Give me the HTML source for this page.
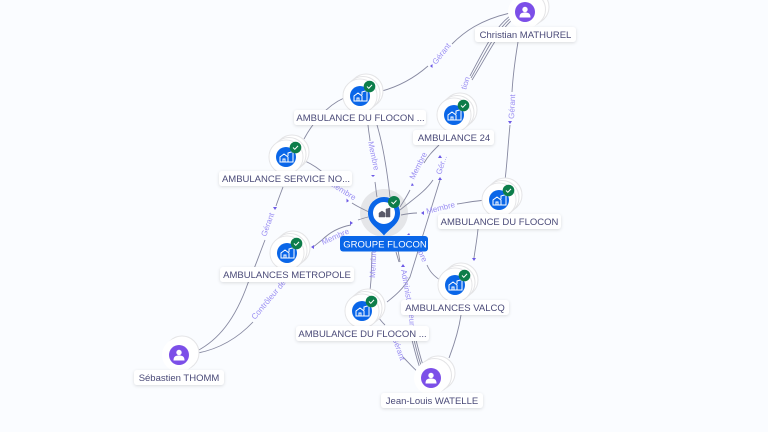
<!DOCTYPE html>
<html><head><meta charset="utf-8"><style>
html,body{margin:0;padding:0;background:#fafcff;width:768px;height:432px;overflow:hidden}
svg{display:block;font-family:"Liberation Sans",sans-serif}
.e{fill:none;stroke:#8688a0;stroke-width:.9}
.el{font-size:8px;fill:#9a8ef2}
.a{fill:#6d5ae6}
.lb{fill:#fff;filter:url(#s)}
.t{font-size:9.5px;fill:#4a4a78;text-anchor:middle}
.c{fill:#fff;stroke:#e4e4e6;stroke-width:1}
</style></head><body>
<svg width="768" height="432" viewBox="0 0 768 432" xmlns="http://www.w3.org/2000/svg">
<defs>
<filter id="s" x="-10%" y="-30%" width="120%" height="170%"><feDropShadow dx="0" dy="1" stdDeviation="1.5" flood-color="#000" flood-opacity=".13"/></filter>
<g id="co">
<circle class="c" cx="6" cy="-5" r="17"/><circle class="c" cx="3" cy="-2.500" r="17"/><circle class="c" cx="0" cy="0" r="17"/><circle r="16.500" fill="#fff"/>
<circle r="10" fill="#0a66e8"/>
<path d="M-6 5v-5l4-3 4 3v5zM-3 5v-3h2v3M2 -1v-3l5-1.500v10.500h-5" fill="none" stroke="#fff" stroke-width="1"/>
<circle cx="9.500" cy="-9.500" r="5.800" fill="#0d7d4a"/>
<path d="M7 -9.500l1.800 1.800 3.200-3.400" fill="none" stroke="#fff" stroke-width="1"/>
</g>
<g id="pe">
<circle class="c" cx="7" cy="-5" r="17"/><circle class="c" cx="3.500" cy="-2.500" r="17"/><circle r="17" fill="#fff"/>
<circle r="10" fill="#7c4fe8"/>
<circle cy="-2.500" r="2.700" fill="#fff"/><path d="M-5.500 5.500c0-4 2-5 5.500-5s5.500 1 5.500 5z" fill="#fff"/>
</g>
<g id="pe2">
<circle class="c" cx="3" cy="-2" r="17"/><circle r="17" fill="#fff"/>
<circle r="10" fill="#7c4fe8"/>
<circle cy="-2.500" r="2.700" fill="#fff"/><path d="M-5.500 5.500c0-4 2-5 5.500-5s5.500 1 5.500 5z" fill="#fff"/>
</g>
</defs>
<rect width="768" height="432" fill="#fafcff"/>

<!-- edges -->
<path class="e" d="M510 13C480 20 464 32 452 44M428 66C412 80 395 88 378 92"/>
<path class="e" d="M344 98C326 106 312 124 304 139"/>
<path class="e" d="M510 16C494 28 484 50 470 76"/>
<path class="e" d="M512 17C496 30 486 52 471 78"/>
<path class="e" d="M514 18C498 32 488 54 472 80"/>
<path class="e" d="M518 42C515 60 513 75 512 92M510 125C508 145 507 165 505 180"/>
<path class="e" d="M368 125C369 135 370 138 370 141M375 182C376 188 376 192 377 197"/>
<path class="e" d="M377 125C383 145 387 170 390 197"/>
<path class="e" d="M439 145C432 152 428 156 424 163M410 190C406 198 403 202 400 207"/>
<path class="e" d="M433 180C425 192 412 200 400 210"/>
<path class="e" d="M440 180C432 205 420 245 410 277C403 290 392 298 387 302"/>
<path class="e" d="M305 161C316 166 322 172 330 178M352 203C358 207 363 209 369 212"/>
<path class="e" d="M417 213C412 213 406 214 401 215M457 204C470 202 480 200 489 200"/>
<path class="e" d="M478 229C477 240 475 250 474 258"/>
<path class="e" d="M368 217C364 218 361 219 358 220"/>
<path class="e" d="M322 240C318 243 316 245 313 247"/>
<path class="e" d="M351 225C340 227 330 232 322 240"/>
<path class="e" d="M372 252L371 280M371 280L370 291"/>
<path class="e" d="M427 265C430 272 434 276 440 280"/>
<path class="e" d="M398 250L400 262"/>
<path class="e" d="M396 252L399 262"/>
<path class="e" d="M412 340C415 352 417 360 420 368"/>
<path class="e" d="M414 340C417 352 419 360 422 368"/>
<path class="e" d="M416 340C419 352 421 360 424 368"/>
<path class="e" d="M379 318C381 321 383 323 385 325M403 357C408 362 413 368 418 372"/>
<path class="e" d="M461 315C458 335 452 350 449 358"/>
<path class="e" d="M283 187C280 195 278 200 276 206M265 240C258 258 254 270 248 283C235 320 218 340 197 351"/>
<path class="e" d="M253 322C236 340 218 349 198 353"/>

<!-- arrows -->
<g class="a">
<path d="M430 66l2.500-2v4z"/><path d="M510 124l-2-3h4z"/><path d="M373 177l-2-2h4z"/><path d="M440 155l-2 3h4z"/><path d="M440 177l-2 3h4z"/>
<path d="M412 183l-1 3 3-.500z"/><path d="M349 201l-2.500-2.500v4z"/><path d="M421 213l3-2v4z"/><path d="M353 223l-3-2v4z"/><path d="M311 247l3-2v4z"/>
<path d="M474 261l-2-3h4z"/><path d="M403 264l-2 3h4z"/><path d="M409 233l-2 2h3z"/><path d="M275 210l-2-3h4z"/>
</g>

<!-- edge labels -->
<g class="el">
<text transform="translate(436 65) rotate(-52)">Gérant</text>
<text transform="translate(466 90) rotate(-72)">tion</text>
<text transform="translate(514 119) rotate(-87)">Gérant</text>
<text transform="translate(368 142) rotate(78)">Membre</text>
<text transform="translate(414 180) rotate(-63)">Membre</text>
<text transform="translate(441 175) rotate(-72)">Gér...</text>
<text transform="translate(329 185) rotate(32)">Membre</text>
<text x="427" y="214" transform="rotate(-14 427 214)">Membre</text>
<text transform="translate(323 245) rotate(-24)">Membre</text>
<text transform="translate(266 237) rotate(-70)">Gérant</text>
<text transform="translate(255 320) rotate(-50)">Contrôleur de</text>
<text transform="translate(375 278) rotate(-87)">Membre</text>
<text transform="translate(401 270) rotate(80)">Administ</text>
<text transform="translate(416 248) rotate(65)">nbre</text>
<text transform="translate(392 338) rotate(70)">Gérant</text>
<text transform="translate(409 312) rotate(88)">teur</text>
</g>

<!-- nodes -->
<use href="#pe" x="525" y="12"/>
<use href="#co" x="360" y="96"/>
<use href="#co" x="454" y="115"/>
<use href="#co" x="286" y="157"/>
<use href="#co" x="499" y="200"/>
<use href="#co" x="287" y="253"/>
<use href="#co" x="455" y="285"/>
<use href="#co" x="362" y="311"/>
<use href="#pe2" x="179" y="355"/>
<use href="#pe" x="431" y="378"/>

<!-- central pin -->
<circle cx="384" cy="213" r="24" fill="#9a9a9a" opacity=".22"/>
<path d="M384 235.500C378 228 368 224 368 213a16 16 0 0 1 32 0C400 224 390 228 384 235.500z" fill="#0a66e8"/>
<circle cx="384" cy="213" r="11" fill="#fff"/>
<path d="M379 217v-4l3-2 3 2v4zM386 217v-8l4-1v9z" fill="#5a5a68" stroke="#5a5a68" stroke-width=".5"/>
<circle cx="394" cy="202" r="6" fill="#0d7d4a"/>
<path d="M391.500 202l1.800 1.800 3.200-3.400" fill="none" stroke="#fff" stroke-width="1"/>

<!-- labels -->
<rect class="lb" x="475" y="27" width="101" height="15" rx="3"/><text class="t" x="525.500" y="38">Christian MATHUREL</text>
<rect class="lb" x="294" y="110" width="132" height="15" rx="3"/><text class="t" x="360.500" y="121">AMBULANCE DU FLOCON ...</text>
<rect class="lb" x="413" y="130" width="81" height="15" rx="3"/><text class="t" x="454" y="141">AMBULANCE 24</text>
<rect class="lb" x="219" y="171" width="133" height="15" rx="3"/><text class="t" x="286" y="182">AMBULANCE SERVICE NO...</text>
<rect class="lb" x="438" y="214" width="123" height="15" rx="3"/><text class="t" x="499.500" y="225">AMBULANCE DU FLOCON</text>
<rect x="340" y="236" width="88" height="15.500" rx="3" fill="#0a66e8"/><text class="t" x="385" y="247.500" style="fill:#fff">GROUPE FLOCON</text>
<rect class="lb" x="220" y="267" width="134" height="15" rx="3"/><text class="t" x="287" y="278">AMBULANCES METROPOLE</text>
<rect class="lb" x="401" y="300" width="108" height="15" rx="3"/><text class="t" x="455" y="311">AMBULANCES VALCQ</text>
<rect class="lb" x="296" y="326" width="133" height="15" rx="3"/><text class="t" x="362.500" y="337">AMBULANCE DU FLOCON ...</text>
<rect class="lb" x="134" y="370" width="90" height="15" rx="3"/><text class="t" x="179" y="381">Sébastien THOMM</text>
<rect class="lb" x="381" y="393" width="102" height="15" rx="3"/><text class="t" x="432" y="404">Jean-Louis WATELLE</text>
</svg>
</body></html>
